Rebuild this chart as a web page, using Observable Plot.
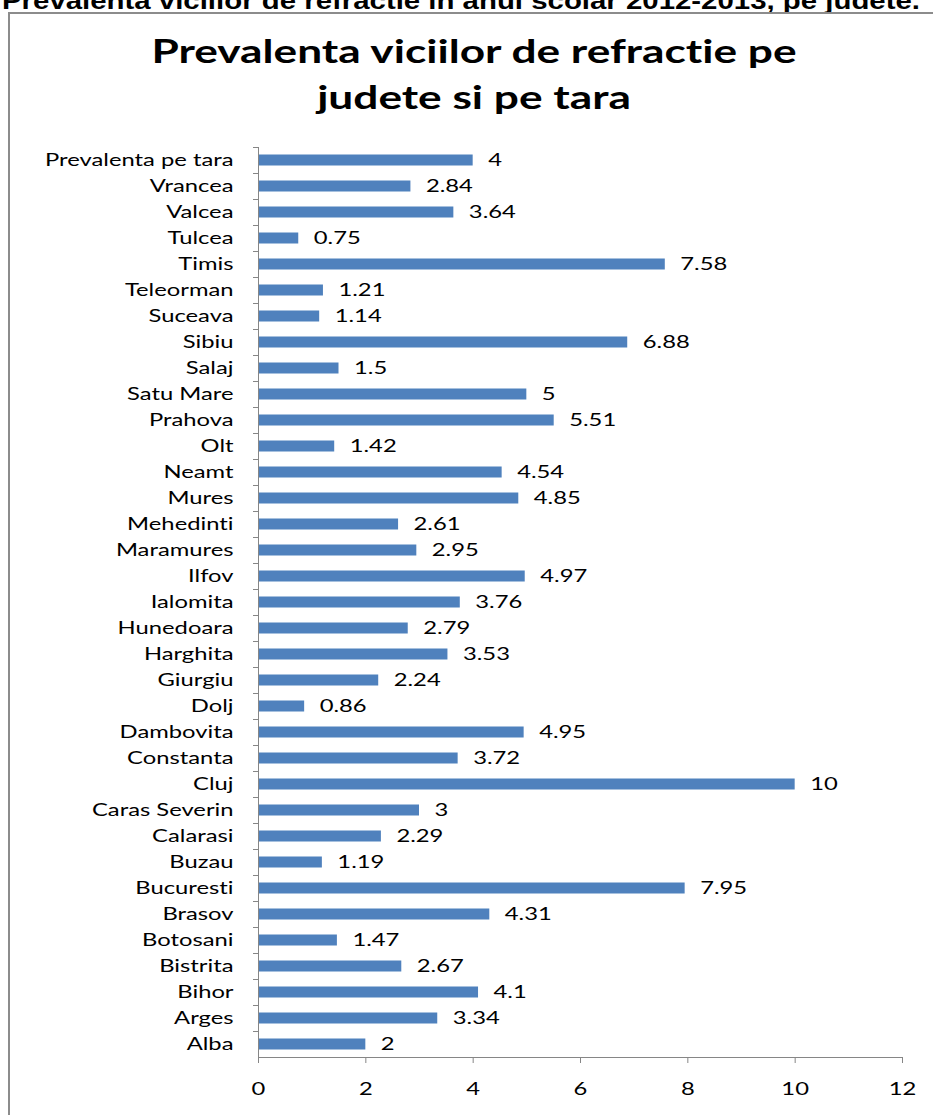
<!DOCTYPE html>
<html>
<head>
<meta charset="utf-8">
<script src="https://cdn.jsdelivr.net/npm/d3@7"></script>
<script src="https://cdn.jsdelivr.net/npm/@observablehq/plot@0.6"></script>
<style>
  body { margin: 0; background: white; }
  #wrap { position: relative; width: 933px; height: 1115px; overflow: hidden; background: white; font-family: Lato, "Open Sans", sans-serif; font-variant-ligatures: none; }
  #header { position: absolute; left: 0; top: 0; }
  #box { position: absolute; left: 8px; top: 12px; width: 1000px; height: 1200px; border-left: 2px solid #8c8c8c; border-top: 2px solid #8c8c8c; box-sizing: border-box; }
  #title { position: absolute; left: 0; width: 948px; top: 27px; text-align: center; font-family: Lato, sans-serif; font-weight: bold; font-size: 33px; line-height: 46px; color: #000; transform: scaleX(1.34); transform-origin: 474px 0; font-variant-ligatures: none; }
  #chart { position: absolute; left: 0; top: 0; }
  #chart svg { background: transparent !important; }
  #chart svg text { font-variant-ligatures: none; }
</style>
</head>
<body>
<div id="wrap">
  <svg id="header" width="933" height="30"><text x="2" y="9" textLength="918" lengthAdjust="spacingAndGlyphs" font-family="Liberation Sans, Arial, sans-serif" font-weight="bold" font-size="23" fill="#000">Prevalenta viciilor de refractie in anul scolar 2012-2013, pe judete.</text></svg>
  <div id="box"></div>
  <div id="title">Prevalenta viciilor de refractie pe<br>judete si pe tara</div>
  <div id="chart"></div>
</div>
<script>
// categories, top to bottom as drawn
const categories = [
  "Prevalenta pe tara", "Vrancea", "Valcea", "Tulcea", "Timis", "Teleorman", "Suceava",
  "Sibiu", "Salaj", "Satu Mare", "Prahova", "Olt", "Neamt", "Mures", "Mehedinti",
  "Maramures", "Ilfov", "Ialomita", "Hunedoara", "Harghita", "Giurgiu", "Dolj",
  "Dambovita", "Constanta", "Cluj", "Caras Severin", "Calarasi", "Buzau", "Bucuresti",
  "Brasov", "Botosani", "Bistrita", "Bihor", "Arges", "Alba"
];
const values = [
  4, 2.84, 3.64, 0.75, 7.58, 1.21, 1.14,
  6.88, 1.5, 5, 5.51, 1.42, 4.54, 4.85, 2.61,
  2.95, 4.97, 3.76, 2.79, 3.53, 2.24, 0.86,
  4.95, 3.72, 10, 3, 2.29, 1.19, 7.95,
  4.31, 1.47, 2.67, 4.1, 3.34, 2
];
const xTicks = [0, 2, 4, 6, 8, 10, 12];

const data = categories.map((name, i) => ({name, value: values[i]}));
const axisGray = "#868686";

const chart = Plot.plot({
  width: 933,
  height: 1115,
  marginLeft: 258,
  marginRight: 31,
  marginTop: 147,
  marginBottom: 58,
  style: {background: "transparent", fontFamily: "Lato, sans-serif", color: "#000"},
  x: {domain: [0, 12], ticks: xTicks, label: null},
  y: {domain: categories, padding: 0, label: null},
  marks: [
    Plot.barX(data, {x: "value", y: "name", fill: "#4F81BD", insetTop: 7.5, insetBottom: 7.5}),
    Plot.text(data, {x: "value", y: "name", text: d => String(d.value), dx: 15, textAnchor: "start", fontSize: 18, fill: "#000"}),
    Plot.ruleX([0], {stroke: axisGray}),
    Plot.ruleY([categories[categories.length - 1]], {dy: 13, stroke: axisGray}),
    Plot.axisY({tickSize: 5, tickFormat: () => "", dy: -13, stroke: axisGray, label: null}),
    Plot.axisY({tickSize: 0, tickPadding: 25, fontSize: 18, fill: "#000", label: null}),
    Plot.axisX({ticks: xTicks, tickSize: 6, tickPadding: 19, fontSize: 18, stroke: axisGray, fill: "#000", tickFormat: d => String(d), label: null})
  ]
});
document.getElementById("chart").appendChild(chart);
// the reference's glyphs are stretched horizontally; widen each text the same way
chart.querySelectorAll("text").forEach(t => {
  const len = t.getComputedTextLength();
  if (len > 0) {
    t.setAttribute("textLength", (len * 1.32).toFixed(1));
    t.setAttribute("lengthAdjust", "spacingAndGlyphs");
  }
});
</script>
</body>
</html>
